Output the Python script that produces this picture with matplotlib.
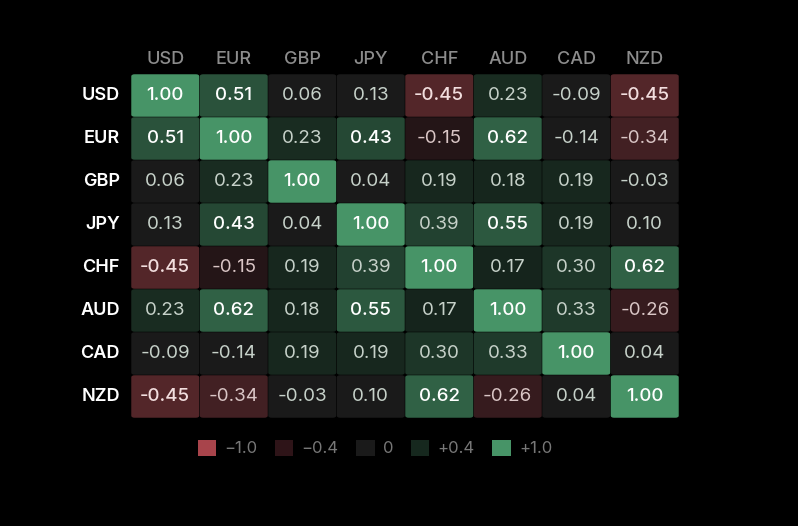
import numpy as np
import matplotlib
matplotlib.use("Agg")
import matplotlib.pyplot as plt
from matplotlib.colors import LinearSegmentedColormap, Normalize
from matplotlib.patches import FancyBboxPatch, Patch

plt.rcParams['font.family'] = ['Inter', 'DejaVu Sans']

currencies = ["USD", "EUR", "GBP", "JPY", "CHF", "AUD", "CAD", "NZD"]
corr = [
    [1.00, 0.51, 0.06, 0.13, -0.45, 0.23, -0.09, -0.45],
    [0.51, 1.00, 0.23, 0.43, -0.15, 0.62, -0.14, -0.34],
    [0.06, 0.23, 1.00, 0.04, 0.19, 0.18, 0.19, -0.03],
    [0.13, 0.43, 0.04, 1.00, 0.39, 0.55, 0.19, 0.10],
    [-0.45, -0.15, 0.19, 0.39, 1.00, 0.17, 0.30, 0.62],
    [0.23, 0.62, 0.18, 0.55, 0.17, 1.00, 0.33, -0.26],
    [-0.09, -0.14, 0.19, 0.19, 0.30, 0.33, 1.00, 0.04],
    [-0.45, -0.34, -0.03, 0.10, 0.62, -0.26, 0.04, 1.00],
]
legend_labels = ["\u22121.0", "\u22120.4", "0", "+0.4", "+1.0"]
legend_colors = ["#a8444b", "#2e1418", "#1a1a1a", "#16281e", "#479467"]

corr = np.array(corr)
n = len(currencies)

# red -> neutral band -> green, jump at +-0.15
cmap = LinearSegmentedColormap.from_list("corr", [
    (0.0, "#a8444b"),
    (0.425, "#241517"),
    (0.425, "#1a1a1a"),
    (0.575, "#1a1a1a"),
    (0.575, "#14211a"),
    (1.0, "#479467"),
])
norm = Normalize(-1, 1)

fig = plt.figure(figsize=(7.98, 5.26), dpi=100, facecolor="black")
ax = fig.add_axes([131/798, 1-418/526, 548/798, 344/526])
ax.set_facecolor("black")
ax.set_xlim(-0.5, n-0.5)
ax.set_ylim(n-0.5, -0.5)

for i in range(n):
    for j in range(n):
        v = corr[i, j]
        c = cmap(norm(v))
        ax.add_patch(FancyBboxPatch((j-0.5+0.004, i-0.5+0.006), 0.992, 0.988,
                                    boxstyle="round,pad=0,rounding_size=0.05",
                                    facecolor=c, edgecolor="none"))
        strong = abs(v) >= 0.4
        if v < -0.14:
            tc = "#f2dede" if strong else "#dac6c6"
        else:
            tc = "#ffffff" if strong else "#c6d1c9"
        ax.text(j, i, f"{v:.2f}", ha="center", va="center", fontsize=13.5,
                color=tc, fontweight="medium" if strong else "normal")

for k, name in enumerate(currencies):
    ax.text(k, -0.84, name, ha="center", va="center", fontsize=13,
            color="#8c8c8c", fontweight="medium")
    ax.text(-0.66, k, name, ha="right", va="center", fontsize=13,
            color="#ffffff", fontweight="semibold")

ax.axis("off")

handles = [Patch(facecolor=c, edgecolor="none") for c in legend_colors]
fig.legend(handles, legend_labels, loc="center", bbox_to_anchor=(375/798, 1-448/526),
           ncol=5, frameon=False, fontsize=12, labelcolor="#777777",
           handlelength=1.1, handleheight=1.1, handletextpad=0.5,
           columnspacing=1.05)

fig.savefig("out.png", dpi=100, facecolor="black")
